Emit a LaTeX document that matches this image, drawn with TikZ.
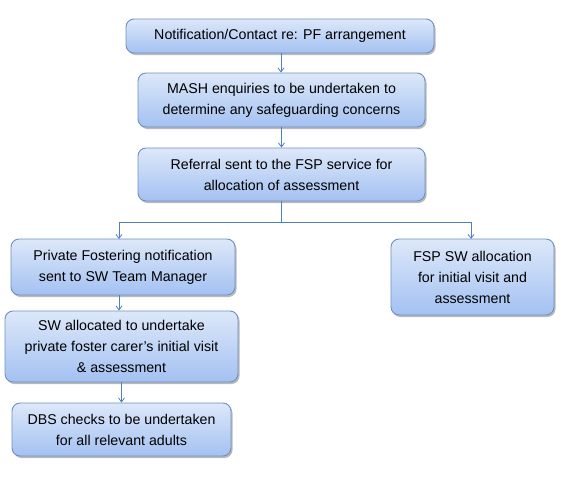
\documentclass[tikz,border=0pt]{standalone}
\usepackage{fontspec}
\setmainfont{Liberation Sans}
\usetikzlibrary{shadows,arrows.meta}
\definecolor{boxtop}{HTML}{DDE8F9}
\definecolor{boxbot}{HTML}{A3C1F2}
\definecolor{boxline}{HTML}{6F8FC0}
\definecolor{conn}{HTML}{4F7FBE}
\begin{document}
\begin{tikzpicture}[x=1pt,y=-1pt,
  box/.style={draw=boxline, line width=0.9pt, rounded corners=8pt, top color=boxtop, bottom color=boxbot,
    drop shadow={shadow xshift=1.5pt, shadow yshift=-2pt, fill=black!45, opacity=0.6},
    align=center, font=\fontsize{14.2}{21}\selectfont, inner sep=0pt},
  conn/.style={draw=conn, line width=0.8pt},
  arr/.style={conn, -{Straight Barb[length=4pt,width=6pt]}}]
\useasboundingbox (0,0) rectangle (567,490);
\node[box, minimum width=308pt, minimum height=34pt] (n1) at (280,36) {Notification/Contact re: PF arrangement};
\node[box, minimum width=287pt, minimum height=54pt] (n2) at (281.5,100) {MASH enquiries to be undertaken to\\determine any safeguarding concerns};
\node[box, minimum width=287pt, minimum height=53pt] (n3) at (281.5,174.5) {Referral sent to the FSP service for\\allocation  of assessment};
\node[box, minimum width=224pt, minimum height=56pt] (n4) at (123,267) {Private Fostering notification\\sent to SW Team Manager};
\node[box, minimum width=163pt, minimum height=76pt] (n5) at (472.5,277) {FSP SW allocation\\for initial visit and\\assessment};
\node[box, minimum width=233pt, minimum height=71pt] (n6) at (121.5,346.5) {SW allocated  to undertake\\private foster carer's initial visit\\\& assessment};
\node[box, minimum width=219pt, minimum height=53pt] (n7) at (121.5,429.5) {DBS checks to be undertaken\\for all relevant adults};
\coordinate (j) at (281.5,222);
\draw[arr] (n1.south -| 281,0) -- (n2.north -| 281,0);
\draw[arr] (n2) -- (n3);
\draw[conn] (n3.south) -- (j);
\draw[arr] (j) -| (119,239);
\draw[arr] (j) -| (471,239);
\draw[arr] (n4.south -| 119,0) -- (n6.north -| 119,0);
\draw[arr] (n6) -- (n7);
\end{tikzpicture}
\end{document}
